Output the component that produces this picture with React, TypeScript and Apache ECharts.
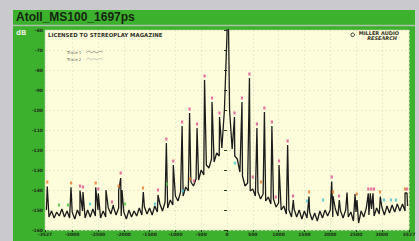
import React, { useEffect, useRef } from "react";
import * as echarts from "echarts";

// ---- axis ticks ----
const xTickValues = [-3527, -3000, -2500, -2000, -1500, -1000, -500, 0, 500, 1000, 1500, 2000, 2500, 3000, 3527];
const yMin = -160;
const yMax = -60;
const yStep = 10;

// ---- noise floor (Trace 1), sampled every 50 Hz from -3500 Hz ----
const floorStartHz = -3500;
const floorStepHz = 50;
const floorDb = [
  -150, -153.5, -150.5, -154, -151, -153, -149.5, -153.5, -150.5, -154,
  -151, -154.5, -150, -153, -150.5, -154, -150, -153.5, -149.5, -153,
  -150, -154, -150.5, -153.5, -149, -152, -148.5, -152.5, -149, -153,
  -151, -154.5, -150, -153.5, -150.5, -153, -149, -152.5, -148.5, -152,
  -149, -152.5, -148, -151, -147, -150.5, -146, -149, -145, -147.5,
  -143, -145.5, -141, -143, -138.5, -140.5, -136, -138, -134.5, -135,
  -130, -132.5, -127.5, -129, -124.5, -126, -121.5, -123, -119, -100,
  -62, -100, -119.5, -123, -124.5, -131, -133, -138, -136.5, -140.5,
  -139.5, -143, -141, -144.5, -142, -145.5, -143.5, -147, -144.5, -148.5,
  -146.5, -150, -148, -152, -150, -153.5, -149.5, -153.5, -150, -154.5,
  -150.5, -154, -151, -155, -151.5, -155.5, -150.5, -154, -150, -153,
  -150, -153.5, -149.5, -153, -150.5, -154, -150, -153.5, -151, -155.5,
  -151, -156.5, -150.5, -153.5, -149, -152.5, -149.5, -153, -149, -152,
  -148.5, -152.5, -148, -151.5, -147.5, -151, -147, -150.5, -147, -150.5,
  -148,
];

// ---- spectral spikes (Trace 1) ----
const peakHz = [
  -3483, -3023, -2849, -2791, -2545, -2494, -2345, -2203, -2099, -2060, -2035,
  -1622, -1337, -1175, -1041, -870, -725, -580, -435, -290, -145, 0,
  145, 290, 435, 580, 725, 870, 1008, 1175, 1285, 1589, 2029, 2054, 2176,
  2326, 2481, 2519, 2738, 2777, 2829, 2971, 3450, 3488,
];
const peakDb = [
  -138.3, -138.7, -140.3, -141, -138.7, -141.7, -140, -147.5, -140.3, -134, -140,
  -141, -142.5, -116.5, -127.5, -108, -101.5, -109, -85, -96, -103.5, 0,
  -103.5, -96, -84, -109, -101, -108, -127.5, -117.5, -145, -143.3, -135.8, -143, -145,
  -141.3, -142, -145, -141.7, -141.7, -141.7, -143.3, -141.5, -141.5,
];

// ---- small coloured harmonic markers ----
const markerHz = [
  -3483, -3023, -2849, -2791, -2545, -2494, -3256, -3081, -2655, -2229, -2060, -2099,
  -1977, -1628, -1337, -1395, -1041, -1163, -853, -717, -640,
  -1175, -870, -725, -580, -435, -290, -145, 145, 290, 435, 580, 725, 870, 1175,
  1008, 944, 1279, 1589, 1550, 1860, 2029, 2054, 2171, 2513, 2738, 2796, 2849,
  2965, 3043, 3178, 3275, 3450, 3488, 500, 659, 155,
];
const markerDb = [
  -137, -137.5, -139, -139.5, -137.5, -140.5, -148.5, -148.5, -148, -147, -132.5, -139,
  -148, -140, -141, -148, -126.5, -138, -141.5, -135.5, -136.5,
  -115.5, -107, -100.5, -108, -84, -95, -102.5, -102.5, -95, -83, -108, -100, -107, -116.5,
  -126.5, -144.5, -144, -142, -146.5, -146, -134.5, -142, -144, -143, -140.5, -140.5, -140.5,
  -142, -146, -146, -146, -140.5, -140.5, -134.5, -137, -127.5,
];
const markerKind = [
  "o", "o", "p", "p", "o", "p", "g", "g", "c", "p", "p", "o",
  "g", "o", "p", "c", "p", "g", "c", "o", "p",
  "p", "p", "p", "p", "p", "p", "p", "p", "p", "p", "p", "p", "p", "p",
  "p", "p", "p", "o", "c", "c", "p", "o", "p", "o", "p", "p", "p",
  "o", "c", "c", "c", "o", "p", "p", "o", "c",
];
const markerColors: Record<string, string> = {
  o: "#e8782a",
  p: "#e0508e",
  g: "#4cbf3c",
  c: "#48c0cc",
};

export default function App() {
  const ref = useRef<HTMLDivElement>(null);

  useEffect(() => {
    if (!ref.current) return;
    const chart = echarts.init(ref.current, undefined, { renderer: "svg" });

    const trace: [number, number][] = floorDb.map((v, i) => [floorStartHz + i * floorStepHz, v]);
    peakHz.forEach((h, i) => trace.push([h, peakDb[i]]));
    trace.sort((a, b) => a[0] - b[0]);

    const markers = markerHz.map((h, i) => ({
      value: [h, markerDb[i]],
      itemStyle: { color: markerColors[markerKind[i]] },
    }));

    const wave = "path://M0,4 C3,0 5,0 8,3 C11,6 13,1 16,2 C19,3 21,6 24,3 C27,0 29,2 32,3";

    chart.setOption({
      animation: false,
      backgroundColor: "#c9c9ce",
      textStyle: { fontFamily: "DejaVu Sans" },
      graphic: [
        { type: "rect", z: -10, shape: { x: 13, y: 10, width: 402, height: 231 }, style: { fill: "#3cb12e" } },
        { type: "line", z: -9, shape: { x1: 13, y1: 25.5, x2: 415, y2: 25.5 }, style: { stroke: "#a9c2a6", lineWidth: 1.5 } },
        {
          type: "text", left: 16, top: 11,
          style: { text: "Atoll_MS100_1697ps", font: "bold 12px 'Liberation Sans'", fill: "#14260f" },
        },
        {
          type: "text", left: 16, top: 29,
          style: { text: "dB", font: "bold 7px 'DejaVu Sans'", fill: "#e4ecdc" },
        },
        {
          type: "text", left: 48, top: 32,
          style: { text: "LICENSED TO STEREOPLAY MAGAZINE", font: "bold 5.4px 'DejaVu Sans'", fill: "#333328" },
        },
        {
          type: "text", right: 20, top: 30,
          style: { text: "MILLER AUDIO", font: "bold 5px 'DejaVu Sans'", fill: "#333328" },
        },
        {
          type: "text", right: 22, top: 35.5,
          style: { text: "RESEARCH", font: "italic bold 5px 'DejaVu Sans'", fill: "#333328" },
        },
        {
          type: "circle", right: 62, top: 30.5,
          shape: { r: 1.8 }, style: { fill: "none", stroke: "#333328", lineWidth: 1 },
        },
      ],
      legend: {
        orient: "vertical",
        left: 62,
        top: 45,
        align: "right",
        itemWidth: 16,
        itemHeight: 5,
        itemGap: 3,
        textStyle: { fontSize: 4, color: "#6a6a60", fontFamily: "DejaVu Sans" },
        data: [
          { name: "Trace 1", icon: wave, itemStyle: { color: "rgba(0,0,0,0)", borderColor: "#8a8a86", borderWidth: 0.9 } },
          { name: "Trace 2", icon: wave, itemStyle: { color: "rgba(0,0,0,0)", borderColor: "#b8c0b0", borderWidth: 0.9 } },
        ],
      },
      grid: {
        left: 45,
        right: 10,
        top: 30,
        bottom: 11,
        show: true,
        backgroundColor: "#fdfddb",
        borderColor: "#d0d4b0",
        borderWidth: 0.5,
      },
      xAxis: {
        type: "value",
        min: -3527,
        max: 3527,
        axisLine: { show: false },
        axisTick: { show: true, customValues: xTickValues, length: 2, lineStyle: { color: "#233a20" }, inside: false },
        axisLabel: {
          customValues: xTickValues,
          fontSize: 4.5,
          color: "#1e2e1a",
          margin: 2,
          fontWeight: "bold",
          formatter: (v: number) => String(v),
        },
        splitLine: { show: true, lineStyle: { color: "#dadfc2", type: [2, 2], width: 0.6 } },
      },
      yAxis: {
        type: "value",
        min: yMin,
        max: yMax,
        interval: yStep,
        axisLine: { show: false },
        axisTick: { show: true, length: 3, lineStyle: { color: "#233a20" } },
        axisLabel: { fontSize: 4.5, color: "#1e2e1a", margin: 2, fontWeight: "bold" },
        splitLine: { show: true, lineStyle: { color: "#dadfc2", type: [2, 2], width: 0.6 } },
      },
      series: [
        {
          name: "Trace 2",
          type: "line",
          data: [],
          showSymbol: false,
          lineStyle: { color: "#b8c0b0", width: 1 },
        },
        {
          name: "Trace 1",
          type: "line",
          data: trace,
          showSymbol: false,
          clip: true,
          lineStyle: { color: "#1c1c1c", width: 1.3 },
          z: 3,
        },
        {
          name: "markers",
          type: "scatter",
          data: markers,
          symbol: "rect",
          symbolSize: [2.2, 3],
          symbolOffset: [0, -2],
          z: 4,
        },
      ],
    });

    return () => chart.dispose();
  }, []);

  return (
    <div
      ref={ref}
      style={{ position: "fixed", left: 0, top: 0, width: 419, height: 241 }}
    />
  );
}
